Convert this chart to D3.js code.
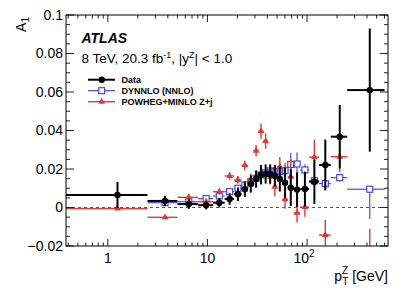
<!DOCTYPE html>
<html><head><meta charset="utf-8">
<script src="https://cdn.jsdelivr.net/npm/d3@7"></script>
<style>
body{margin:0;background:#fff}
svg{display:block}
text{font-family:"Liberation Sans",Arial,Helvetica,sans-serif;fill:#000}
</style>
</head><body>
<svg id="c" width="409" height="294"></svg>
<script>
// ---- data ----
const binLow  = [0, 2.5, 5.0, 8.0, 11.4, 14.9, 18.5, 22.0, 25.5, 29.0, 32.6, 36.4, 40.4, 44.9, 50.2, 56.4, 63.9, 73.4, 85.4, 105, 132, 173, 253];
const binHigh = [2.5, 5.0, 8.0, 11.4, 14.9, 18.5, 22.0, 25.5, 29.0, 32.6, 36.4, 40.4, 44.9, 50.2, 56.4, 63.9, 73.4, 85.4, 105, 132, 173, 253, 600];

const dataVal = [0.0065, 0.0034, 0.0018, 0.0012, 0.0025, 0.0044, 0.0069, 0.0095, 0.0122, 0.0148, 0.0170, 0.0174, 0.0174, 0.0165, 0.0148, 0.0129, 0.0103, 0.0093, 0.0096, 0.0134, 0.0221, 0.0368, 0.0610];
const dataErr = [0.0068, 0.0027, 0.0025, 0.0022, 0.0025, 0.0030, 0.0035, 0.0040, 0.0045, 0.0045, 0.0050, 0.0050, 0.0050, 0.0055, 0.0065, 0.0078, 0.0095, 0.0090, 0.0090, 0.0115, 0.0132, 0.0165, 0.0320];

// first bin: no visible DYNNLO point in the reference
const dynVal   = [null, 0.0025, 0.0030, 0.0046, 0.0060, 0.0082, 0.0100, 0.0117, 0.0134, 0.0152, 0.0169, 0.0180, 0.0190, 0.0188, 0.0186, 0.0191, 0.0224, 0.0226, 0.0195, 0.0139, 0.0124, 0.0155, 0.0095];
const dynErrUp = [0, 0.0010, 0.0010, 0.0010, 0.0010, 0.0012, 0.0015, 0.0015, 0.0015, 0.0020, 0.0020, 0.0020, 0.0020, 0.0025, 0.0030, 0.0040, 0.0060, 0.0060, 0.0030, 0.0030, 0.0020, 0.0020, 0.0010];
const dynErrDn = [0, 0.0010, 0.0010, 0.0010, 0.0010, 0.0012, 0.0015, 0.0015, 0.0015, 0.0020, 0.0020, 0.0020, 0.0020, 0.0025, 0.0030, 0.0040, 0.0060, 0.0060, 0.0030, 0.0030, 0.0020, 0.0020, 0.0155];

const powVal = [-0.0006, -0.0051, 0.0053, 0.0030, 0.0082, 0.0164, 0.0143, 0.0219, 0.0146, 0.0295, 0.0397, 0.0345, 0.0160, 0.0108, 0.0212, 0.0043, 0.0160, -0.0028, 0.0002, 0.0262, -0.0143, 0.0264, -0.0300];
const powErr = [0.0005, 0.0008, 0.0015, 0.0015, 0.0015, 0.0020, 0.0020, 0.0025, 0.0030, 0.0030, 0.0040, 0.0040, 0.0040, 0.0050, 0.0050, 0.0050, 0.0090, 0.0050, 0.0050, 0.0090, 0.0080, 0.0080, 0.0190];

const yMajor = [-0.02, 0, 0.02, 0.04, 0.06, 0.08, 0.1];
const yLabels = ["\u22120.02", "0", "0.02", "0.04", "0.06", "0.08", "0.1"];
const xMajor = [1, 10, 100];
const xLabels = ["1", "10", "10"];
const xLabelSup = ["", "", "2"];
const legendNames = ["Data", "DYNNLO (NNLO)", "POWHEG+MINLO Z+j"];

// ---- layout ----
const L = 66, R = 388, T = 15, B = 246;
const svg = d3.select("#c");
const x = d3.scaleLog().domain([0.38, 650]).range([L, R]);
const y = d3.scaleLinear().domain([-0.02, 0.1]).range([B, T]);
const xMin = x.domain()[0];

const cBlack = "#000", cBlue = "#3a3ae0", cRed = "#e03838";

svg.append("defs").append("clipPath").attr("id", "clip")
  .append("rect").attr("x", L).attr("y", T).attr("width", R - L).attr("height", B - T);

// zero line
svg.append("line").attr("x1", L).attr("x2", R).attr("y1", y(0)).attr("y2", y(0))
  .attr("stroke", "#555").attr("stroke-width", 1).attr("stroke-dasharray", "3,3");

const plot = svg.append("g").attr("clip-path", "url(#clip)");

function drawSeries(vals, errUp, errDn, color, lw, gap, marker) {
  const g = plot.append("g");
  vals.forEach((v, i) => {
    if (v === null) return;
    const xc = x((binLow[i] + binHigh[i]) / 2);
    const yc = y(v);
    const xl = x(Math.max(binLow[i], xMin));
    const xh = x(binHigh[i]);
    const yu = y(v + errUp[i]);
    const yd = y(v - errDn[i]);
    const segs = [];
    if (xc - gap > xl) segs.push([xl, yc, xc - gap, yc]);
    if (xh > xc + gap) segs.push([xc + gap, yc, xh, yc]);
    if (yc - gap > yu) segs.push([xc, yu, xc, yc - gap]);
    if (yd > yc + gap) segs.push([xc, yc + gap, xc, yd]);
    segs.forEach(s => g.append("line").attr("x1", s[0]).attr("y1", s[1]).attr("x2", s[2]).attr("y2", s[3])
      .attr("stroke", color).attr("stroke-width", lw));
    marker(g, xc, yc);
  });
}

const sqMarker = (g, cx, cy) => g.append("rect").attr("x", cx - 3).attr("y", cy - 3).attr("width", 6).attr("height", 6)
  .attr("fill", "none").attr("stroke", cBlue).attr("stroke-width", 1.1);
const triMarker = (g, cx, cy) => g.append("path").attr("d", d3.symbol(d3.symbolTriangle, 20)())
  .attr("transform", `translate(${cx},${cy})`).attr("fill", cRed);
const dotMarker = (g, cx, cy) => g.append("circle").attr("cx", cx).attr("cy", cy).attr("r", 3.2).attr("fill", cBlack);

drawSeries(dynVal, dynErrUp, dynErrDn, cBlue, 1.1, 3, sqMarker);
drawSeries(powVal, powErr, powErr, cRed, 1.4, 0, triMarker);
drawSeries(dataVal, dataErr, dataErr, cBlack, 2, 0, dotMarker);

// ---- frame & ticks ----
const axG = svg.append("g").attr("stroke", "#222").attr("stroke-width", 1);
const yMinor = d3.range(-0.02, 0.1001, 0.005);
yMinor.forEach(v => {
  const isMaj = yMajor.some(m => Math.abs(m - v) < 1e-6);
  const len = isMaj ? 8 : 4;
  axG.append("line").attr("x1", L).attr("x2", L + len).attr("y1", y(v)).attr("y2", y(v));
  axG.append("line").attr("x1", R).attr("x2", R - len).attr("y1", y(v)).attr("y2", y(v));
});
const xTicksAll = [];
[0.1, 1, 10, 100].forEach(d => { for (let k = 1; k <= 9; k++) xTicksAll.push(k * d); });
xTicksAll.filter(v => v >= xMin && v <= 650).forEach(v => {
  const isMaj = xMajor.includes(v);
  const len = isMaj ? 7 : 3.5;
  axG.append("line").attr("x1", x(v)).attr("x2", x(v)).attr("y1", B).attr("y2", B - len);
  axG.append("line").attr("x1", x(v)).attr("x2", x(v)).attr("y1", T).attr("y2", T + len);
});
svg.append("rect").attr("x", L).attr("y", T).attr("width", R - L).attr("height", B - T)
  .attr("fill", "none").attr("stroke", "#000").attr("stroke-width", 1);

// y labels
yMajor.forEach((v, i) => {
  svg.append("text").attr("x", L - 3).attr("y", y(v)).attr("dy", "0.35em")
    .attr("text-anchor", "end").attr("font-size", 14).text(yLabels[i]);
});
// x labels
xMajor.forEach((v, i) => {
  const t = svg.append("text").attr("x", x(v) - (xLabelSup[i] ? 3 : 0)).attr("y", 263)
    .attr("text-anchor", "middle").attr("font-size", 14).text(xLabels[i]);
  if (xLabelSup[i]) t.append("tspan").attr("dy", -6).attr("font-size", 10).text(xLabelSup[i]);
});

// axis titles
const xt = svg.append("text").attr("x", R).attr("y", 281).attr("text-anchor", "end").attr("font-size", 14);
xt.append("tspan").text("p");
xt.append("tspan").attr("font-size", 10).attr("dy", -7).text("Z");
xt.append("tspan").attr("font-size", 10).attr("dx", -6).attr("dy", 11).text("T");
xt.append("tspan").attr("dy", -4).text(" [GeV]");

const yt = svg.append("text").attr("transform", "translate(26,17) rotate(-90)")
  .attr("text-anchor", "end").attr("font-size", 14);
yt.append("tspan").text("A");
yt.append("tspan").attr("font-size", 10).attr("dy", 3).text("1");

// ATLAS label
svg.append("text").attr("x", 81.5).attr("y", 43).attr("font-size", 14)
  .attr("font-weight", "bold").attr("font-style", "italic").text("ATLAS");
const info = svg.append("text").attr("x", 81.5).attr("y", 63).attr("font-size", 13.5);
info.append("tspan").text("8 TeV, 20.3 fb");
info.append("tspan").attr("font-size", 9).attr("dy", -5).text("-1");
info.append("tspan").attr("dy", 5).text(", |y");
info.append("tspan").attr("font-size", 9).attr("dy", -5).text("Z");
info.append("tspan").attr("dy", 5).text("| < 1.0");

// legend
const legY = [79.7, 90.7, 101.7];
const legColors = [cBlack, cBlue, cRed];
const legW = [2, 1.1, 1.4];
const legMarkers = [dotMarker, sqMarker, triMarker];
legendNames.forEach((name, i) => {
  const yy = legY[i];
  if (i === 1) {
    svg.append("line").attr("x1", 88).attr("x2", 98.7).attr("y1", yy).attr("y2", yy).attr("stroke", legColors[i]).attr("stroke-width", legW[i]);
    svg.append("line").attr("x1", 104.7).attr("x2", 115).attr("y1", yy).attr("y2", yy).attr("stroke", legColors[i]).attr("stroke-width", legW[i]);
  } else {
    svg.append("line").attr("x1", 88).attr("x2", 115).attr("y1", yy).attr("y2", yy).attr("stroke", legColors[i]).attr("stroke-width", legW[i]);
  }
  legMarkers[i](svg, 101.7, yy);
  svg.append("text").attr("x", 121.5).attr("y", yy + 3.2).attr("font-size", 9).attr("font-weight", "bold").text(name);
});
</script>
</body></html>
